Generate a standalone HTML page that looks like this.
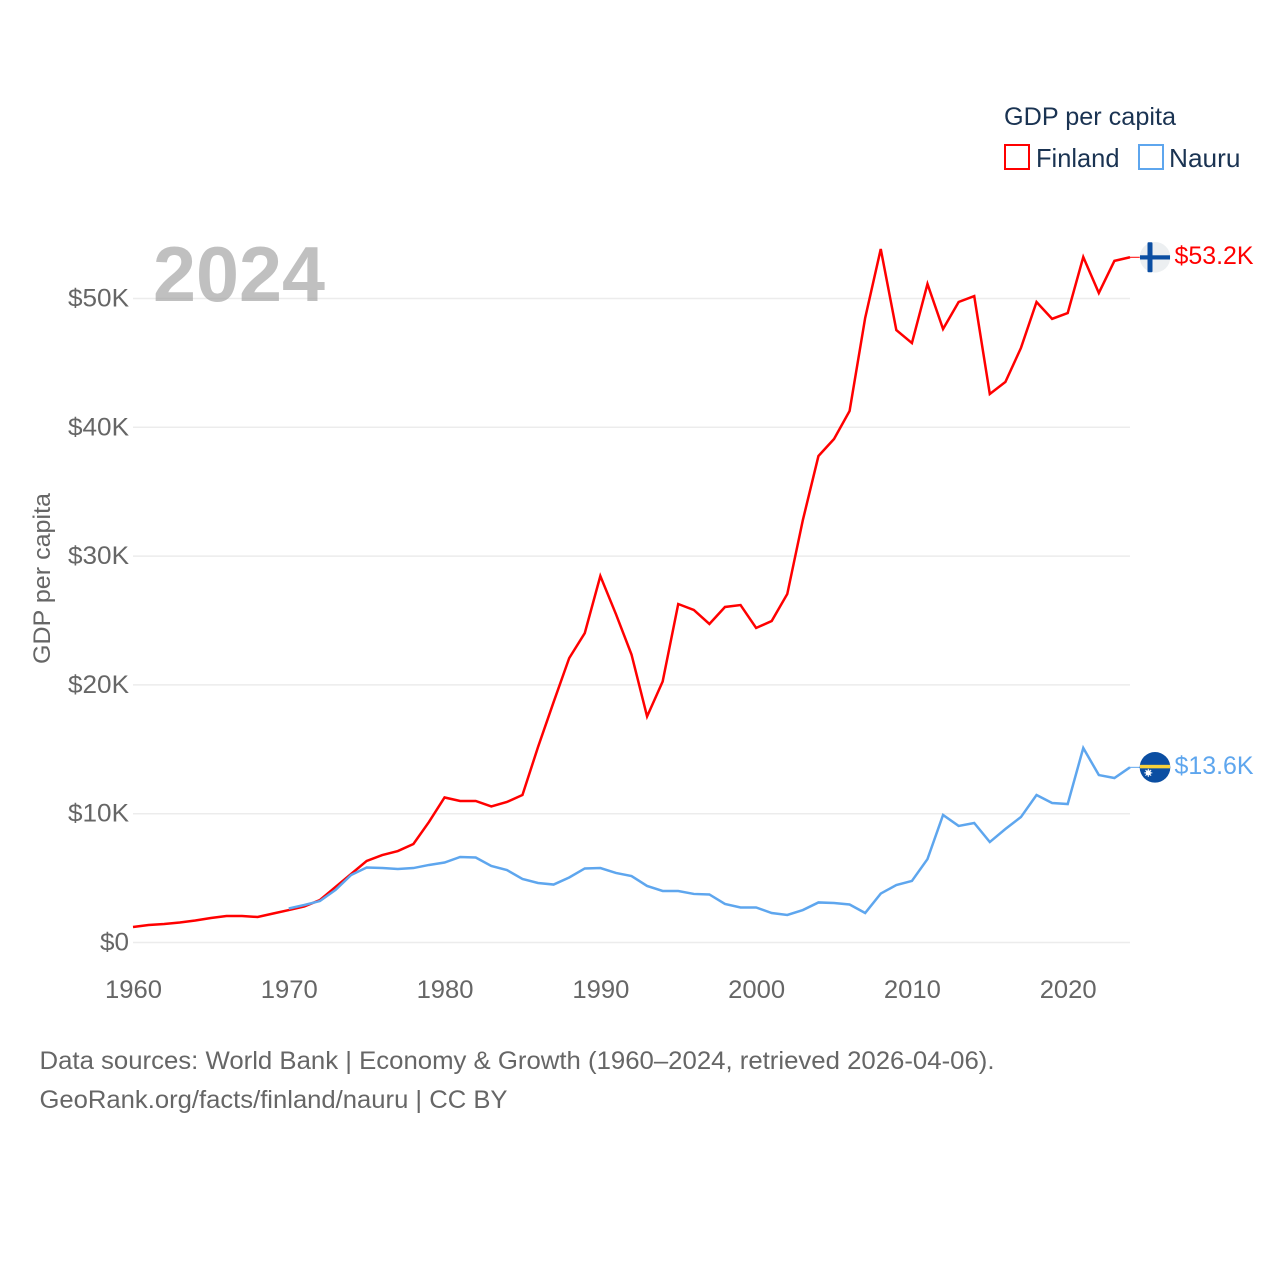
<!DOCTYPE html>
<html lang="en">
<head>
<meta charset="utf-8">
<title>GDP per capita: Finland and Nauru</title>
<style>
html,body{margin:0;padding:0;background:#fff;width:1280px;height:1280px;overflow:hidden}
svg{display:block}
text{font-family:"Liberation Sans",sans-serif}
</style>
</head>
<body>
<svg id="chart" width="1280" height="1280" viewBox="0 0 1280 1280" xmlns="http://www.w3.org/2000/svg">
  <rect width="1280" height="1280" fill="#fff"/>
  <g id="grid"></g>
  <g id="yticks"></g>
  <g id="xticks"></g>
  <text transform="translate(50,578.5) rotate(-90)" text-anchor="middle" font-size="24.5" fill="#666" textLength="171" lengthAdjust="spacingAndGlyphs">GDP per capita</text>
  <text x="153" y="301" font-size="78" font-weight="700" fill="#9a9a9a" fill-opacity="0.62" textLength="172" lengthAdjust="spacingAndGlyphs">2024</text>
  <g id="series"></g>
  <g id="ends"></g>
  <g>
    <text x="1004" y="125" font-size="25" fill="#1a3352" textLength="172" lengthAdjust="spacingAndGlyphs">GDP per capita</text>
    <g>
      <rect x="1005" y="145" width="24" height="24" fill="none" stroke="#ff0000" stroke-width="2"/>
      <text x="1036" y="167" font-size="26" fill="#1a3352" textLength="83.5" lengthAdjust="spacingAndGlyphs">Finland</text>
    </g>
    <g>
      <rect x="1139" y="145" width="24" height="24" fill="none" stroke="#5ea6ee" stroke-width="2"/>
      <text x="1169" y="167" font-size="26" fill="#1a3352" textLength="71.5" lengthAdjust="spacingAndGlyphs">Nauru</text>
    </g>
  </g>
  <text x="39.5" y="1069" font-size="25" fill="#666" textLength="955" lengthAdjust="spacingAndGlyphs">Data sources: World Bank | Economy &amp; Growth (1960–2024, retrieved 2026-04-06).</text>
  <text x="39.5" y="1108" font-size="25" fill="#666" textLength="468" lengthAdjust="spacingAndGlyphs">GeoRank.org/facts/finland/nauru | CC BY</text>
</svg>
<script>
const years = [1960,1961,1962,1963,1964,1965,1966,1967,1968,1969,1970,1971,1972,1973,1974,1975,1976,1977,1978,1979,1980,1981,1982,1983,1984,1985,1986,1987,1988,1989,1990,1991,1992,1993,1994,1995,1996,1997,1998,1999,2000,2001,2002,2003,2004,2005,2006,2007,2008,2009,2010,2011,2012,2013,2014,2015,2016,2017,2018,2019,2020,2021,2022,2023,2024];
const finland = [1.20,1.36,1.44,1.55,1.71,1.90,2.06,2.06,1.98,2.25,2.52,2.80,3.30,4.31,5.32,6.33,6.79,7.10,7.65,9.36,11.26,10.99,10.99,10.56,10.91,11.45,15.18,18.67,22.08,24.02,28.45,25.50,22.36,17.55,20.26,26.28,25.82,24.73,26.05,26.20,24.42,24.96,27.06,32.80,37.77,39.09,41.27,48.49,53.84,47.55,46.54,51.13,47.63,49.73,50.19,42.59,43.52,46.16,49.73,48.42,48.87,53.22,50.43,52.92,53.2];
const nauru = [null,null,null,null,null,null,null,null,null,null,2.64,2.91,3.22,4.08,5.24,5.82,5.78,5.71,5.78,6.02,6.21,6.64,6.60,5.94,5.63,4.93,4.62,4.50,5.05,5.75,5.78,5.40,5.16,4.39,4.00,4.00,3.77,3.73,2.99,2.72,2.72,2.29,2.14,2.52,3.11,3.07,2.95,2.29,3.80,4.46,4.78,6.48,9.90,9.05,9.28,7.80,8.81,9.74,11.45,10.83,10.75,15.10,13.00,12.77,13.60];
const yTickValues = [0,10,20,30,40,50];
const yTickLabels = ['$0','$10K','$20K','$30K','$40K','$50K'];
const xTickValues = [1960,1970,1980,1990,2000,2010,2020];
const endLabels = ['$53.2K','$13.6K'];

const NS = 'http://www.w3.org/2000/svg';
const xScale = function (year) { return 133 + (year - 1960) * (1130 - 133) / 64; };
const yScale = function (k) { return 942.5 - k * (942.5 - 298.5) / 50; };
const textWidth = function (s) { return s.length === 2 ? 29 : (s.charAt(0) === '$' ? (s.length === 4 ? 61 : 79) : 57); };

const grid = document.getElementById('grid');
const yticks = document.getElementById('yticks');
yTickValues.forEach(function (v, i) {
  const line = document.createElementNS(NS, 'line');
  
  
  line.setAttribute('x1', 133);
  line.setAttribute('x2', 1130);
  line.setAttribute('y1', yScale(v));
  line.setAttribute('y2', yScale(v));
  line.setAttribute('stroke', '#ececec');
  line.setAttribute('stroke-width', 1.5);
  grid.appendChild(line);
  const t = document.createElementNS(NS, 'text');
  
  
  t.setAttribute('x', 129);
  t.setAttribute('y', yScale(v) + 8);
  t.setAttribute('text-anchor', 'end');
  t.setAttribute('font-size', 25);
  t.setAttribute('fill', '#666');
  t.setAttribute('textLength', textWidth(yTickLabels[i]));
  t.setAttribute('lengthAdjust', 'spacingAndGlyphs');
  t.textContent = yTickLabels[i];
  yticks.appendChild(t);
});

const xticks = document.getElementById('xticks');
xTickValues.forEach(function (v) {
  const t = document.createElementNS(NS, 'text');
  
  
  t.setAttribute('x', xScale(v) + 0.5);
  t.setAttribute('y', 998);
  t.setAttribute('text-anchor', 'middle');
  t.setAttribute('font-size', 25);
  t.setAttribute('fill', '#666');
  t.setAttribute('textLength', 57);
  t.setAttribute('lengthAdjust', 'spacingAndGlyphs');
  t.textContent = String(v);
  xticks.appendChild(t);
});

const linePath = function (values) {
  let d = '';
  values.forEach(function (v, i) {
    if (v === null) return;
    d += (d === '' ? 'M' : 'L') + xScale(years[i]).toFixed(2) + ' ' + yScale(v).toFixed(2);
  });
  return d;
};

const seriesGroup = document.getElementById('series');
const pathFinland = document.createElementNS(NS, 'path');


pathFinland.setAttribute('d', linePath(finland));
pathFinland.setAttribute('fill', 'none');
pathFinland.setAttribute('stroke', '#ff0000');
pathFinland.setAttribute('stroke-width', 2.5);
pathFinland.setAttribute('stroke-linejoin', 'miter');
seriesGroup.appendChild(pathFinland);
const pathNauru = document.createElementNS(NS, 'path');


pathNauru.setAttribute('d', linePath(nauru));
pathNauru.setAttribute('fill', 'none');
pathNauru.setAttribute('stroke', '#5ea6ee');
pathNauru.setAttribute('stroke-width', 2.5);
pathNauru.setAttribute('stroke-linejoin', 'miter');
seriesGroup.appendChild(pathNauru);

const ends = document.getElementById('ends');
const lastFinland = finland[finland.length - 1];
const lastNauru = nauru[nauru.length - 1];
const endX = xScale(years[years.length - 1]);
const flagX = endX + 25;

const stubF = document.createElementNS(NS, 'line');


stubF.setAttribute('x1', endX);
stubF.setAttribute('x2', flagX - 15);
stubF.setAttribute('y1', yScale(lastFinland));
stubF.setAttribute('y2', yScale(lastFinland));
stubF.setAttribute('stroke', '#ff0000');
stubF.setAttribute('stroke-width', 1);
ends.appendChild(stubF);
const stubN = document.createElementNS(NS, 'line');


stubN.setAttribute('x1', endX);
stubN.setAttribute('x2', flagX - 15);
stubN.setAttribute('y1', yScale(lastNauru));
stubN.setAttribute('y2', yScale(lastNauru));
stubN.setAttribute('stroke', '#5ea6ee');
stubN.setAttribute('stroke-width', 1);
ends.appendChild(stubN);

const flagF = document.createElementNS(NS, 'g');


flagF.setAttribute('transform', 'translate(' + flagX + ',' + yScale(lastFinland) + ')');
flagF.innerHTML = '<circle r="15.3" fill="#eceff1"/>' +
  '<rect x="-15" y="-2" width="30" height="4.2" fill="#0b4ea2"/>' +
  '<rect x="-7.5" y="-15" width="5" height="30" rx="1" fill="#0b4ea2"/>';
ends.appendChild(flagF);

const flagN = document.createElementNS(NS, 'g');


flagN.setAttribute('transform', 'translate(' + flagX + ',' + yScale(lastNauru) + ')');
flagN.innerHTML = '<circle r="15.3" fill="#0b4ea2"/>' +
  '<rect x="-15" y="-2.5" width="30" height="3.5" fill="#f7d13a"/>' +
  '<circle cx="-6.7" cy="5.5" r="2.6" fill="#fff"/>' +
  '<path d="M-6.7 1.5V9.5M-10.7 5.5H-2.7M-9.5 2.7L-3.9 8.3M-3.9 2.7L-9.5 8.3" stroke="#fff" stroke-width="1"/>';
ends.appendChild(flagN);

const labelF = document.createElementNS(NS, 'text');


labelF.setAttribute('x', flagX + 19.5);
labelF.setAttribute('y', yScale(lastFinland) + 6.5);
labelF.setAttribute('font-size', 25);
labelF.setAttribute('fill', '#ff0000');
labelF.setAttribute('textLength', 79);
labelF.setAttribute('lengthAdjust', 'spacingAndGlyphs');
labelF.textContent = endLabels[0];
ends.appendChild(labelF);

const labelN = document.createElementNS(NS, 'text');


labelN.setAttribute('x', flagX + 19.5);
labelN.setAttribute('y', yScale(lastNauru) + 6.5);
labelN.setAttribute('font-size', 25);
labelN.setAttribute('fill', '#5ea6ee');
labelN.setAttribute('textLength', 79);
labelN.setAttribute('lengthAdjust', 'spacingAndGlyphs');
labelN.textContent = endLabels[1];
ends.appendChild(labelN);
</script>
</body>
</html>
